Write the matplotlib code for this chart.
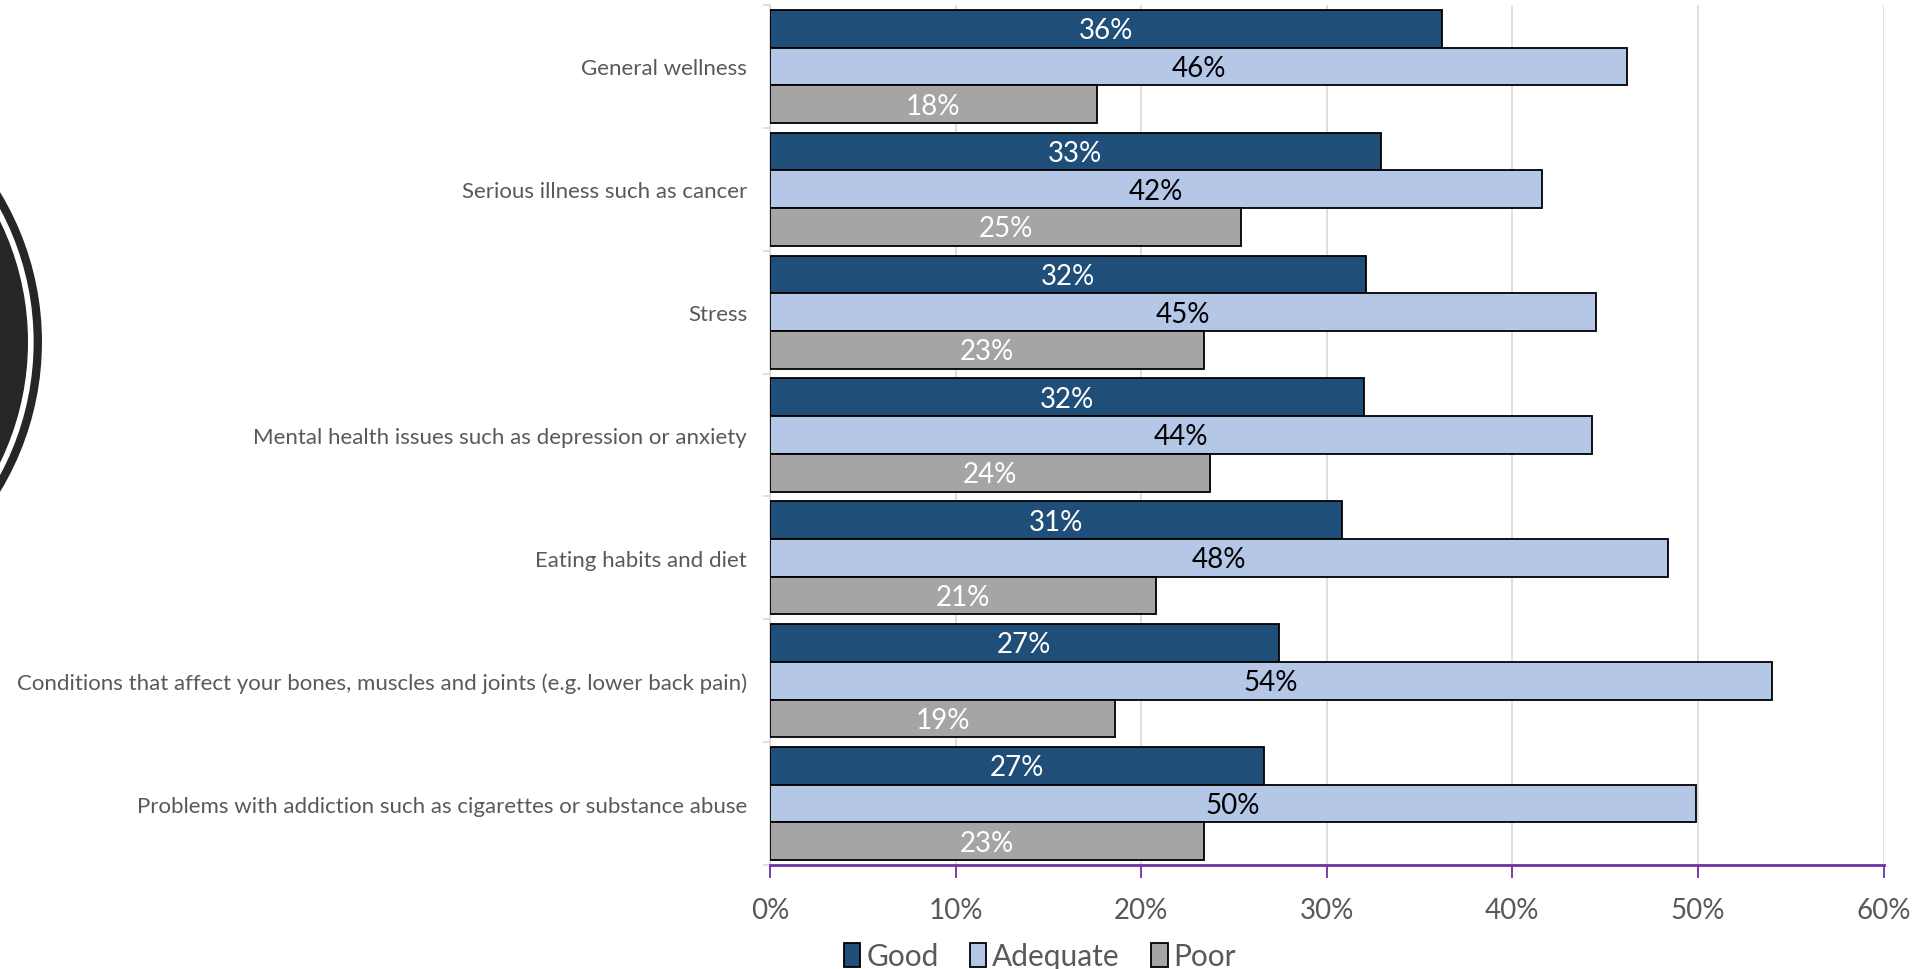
import matplotlib.pyplot as plt
import numpy as np
from matplotlib.patches import Circle, Patch

plt.rcParams["font.family"] = ["Lato", "DejaVu Sans"]

categories = [
    "General wellness",
    "Serious illness such as cancer",
    "Stress",
    "Mental health issues such as depression or anxiety",
    "Eating habits and diet",
    "Conditions that affect your bones, muscles and joints (e.g. lower back pain)",
    "Problems with addiction such as cigarettes or substance abuse",
]
good = [36.2, 32.9, 32.1, 32.0, 30.8, 27.4, 26.6]
adequate = [46.2, 41.6, 44.5, 44.3, 48.4, 54.0, 49.9]
poor = [17.6, 25.4, 23.4, 23.7, 20.8, 18.6, 23.4]
series_names = ["Good", "Adequate", "Poor"]
colors = ["#1F4E79", "#B4C7E7", "#A5A5A5"]
label_colors = ["white", "black", "white"]
xticks = [0, 10, 20, 30, 40, 50, 60]

W, H = 1923, 970
fig = plt.figure(figsize=(W / 100, H / 100), dpi=100)

# decorative circle cut off at the left edge
deco = fig.add_axes([0, 0, 1, 1], zorder=0)
deco.set_xlim(0, W)
deco.set_ylim(H, 0)
deco.axis("off")
deco.add_patch(Circle((-247, 343), 284.8, facecolor="none", edgecolor="#262626", linewidth=6))
deco.add_patch(Circle((-247, 343), 275, facecolor="#262626", edgecolor="none"))

ax = fig.add_axes([770 / W, 1 - 866 / H, (1883.6 - 770) / W, 860 / H], zorder=1)

h = 0.307
y = np.arange(len(categories))
for i, (vals, c, lc) in enumerate(zip([good, adequate, poor], colors, label_colors)):
    bars = ax.barh(y + (i - 1) * h, vals, height=h, color=c, edgecolor="black",
                   linewidth=1.3, label=series_names[i], zorder=3)
    for b, v in zip(bars, vals):
        ax.text(v / 2, b.get_y() + h / 2 + 0.012, f"{int(v + 0.5)}%", ha="center",
                va="center", color=lc, fontsize=20, zorder=4)

ax.set_xlim(0, 60)
ax.set_ylim(len(categories) - 0.5, -0.5)
ax.set_xticks(xticks)
ax.set_xticklabels([f"{t}%" for t in xticks])
ax.xaxis.grid(True, color="#D9D9D9", linewidth=1.2, zorder=0)
ax.set_axisbelow(True)

ax.set_yticks(y)
ax.set_yticklabels(categories)
ax.set_yticks(np.arange(-0.5, len(categories)), minor=True)
ax.tick_params(axis="y", which="major", length=0, pad=16.5, labelsize=16, labelcolor="#595959")
ax.tick_params(axis="y", which="minor", length=5, color="#D9D9D9", width=1.2)
ax.tick_params(axis="x", length=9, width=1.3, color="#7030A0", pad=14,
               labelsize=20, labelcolor="#595959")

for s in ["top", "right"]:
    ax.spines[s].set_visible(False)
ax.spines["left"].set_color("#D9D9D9")
ax.spines["left"].set_linewidth(1.2)
ax.spines["bottom"].set_color("#7030A0")
ax.spines["bottom"].set_linewidth(2)

handles = [Patch(facecolor=c, edgecolor="black", linewidth=1.3, label=n)
           for c, n in zip(colors, series_names)]
fig.legend(handles=handles, loc="center", bbox_to_anchor=(1040 / W, 1 - 957 / H), ncol=3,
           frameon=False, fontsize=21.5, handlelength=0.55, handleheight=0.85,
           handletextpad=0.2, columnspacing=1.05, labelcolor="#595959")

fig.savefig("out.png", dpi=100)
